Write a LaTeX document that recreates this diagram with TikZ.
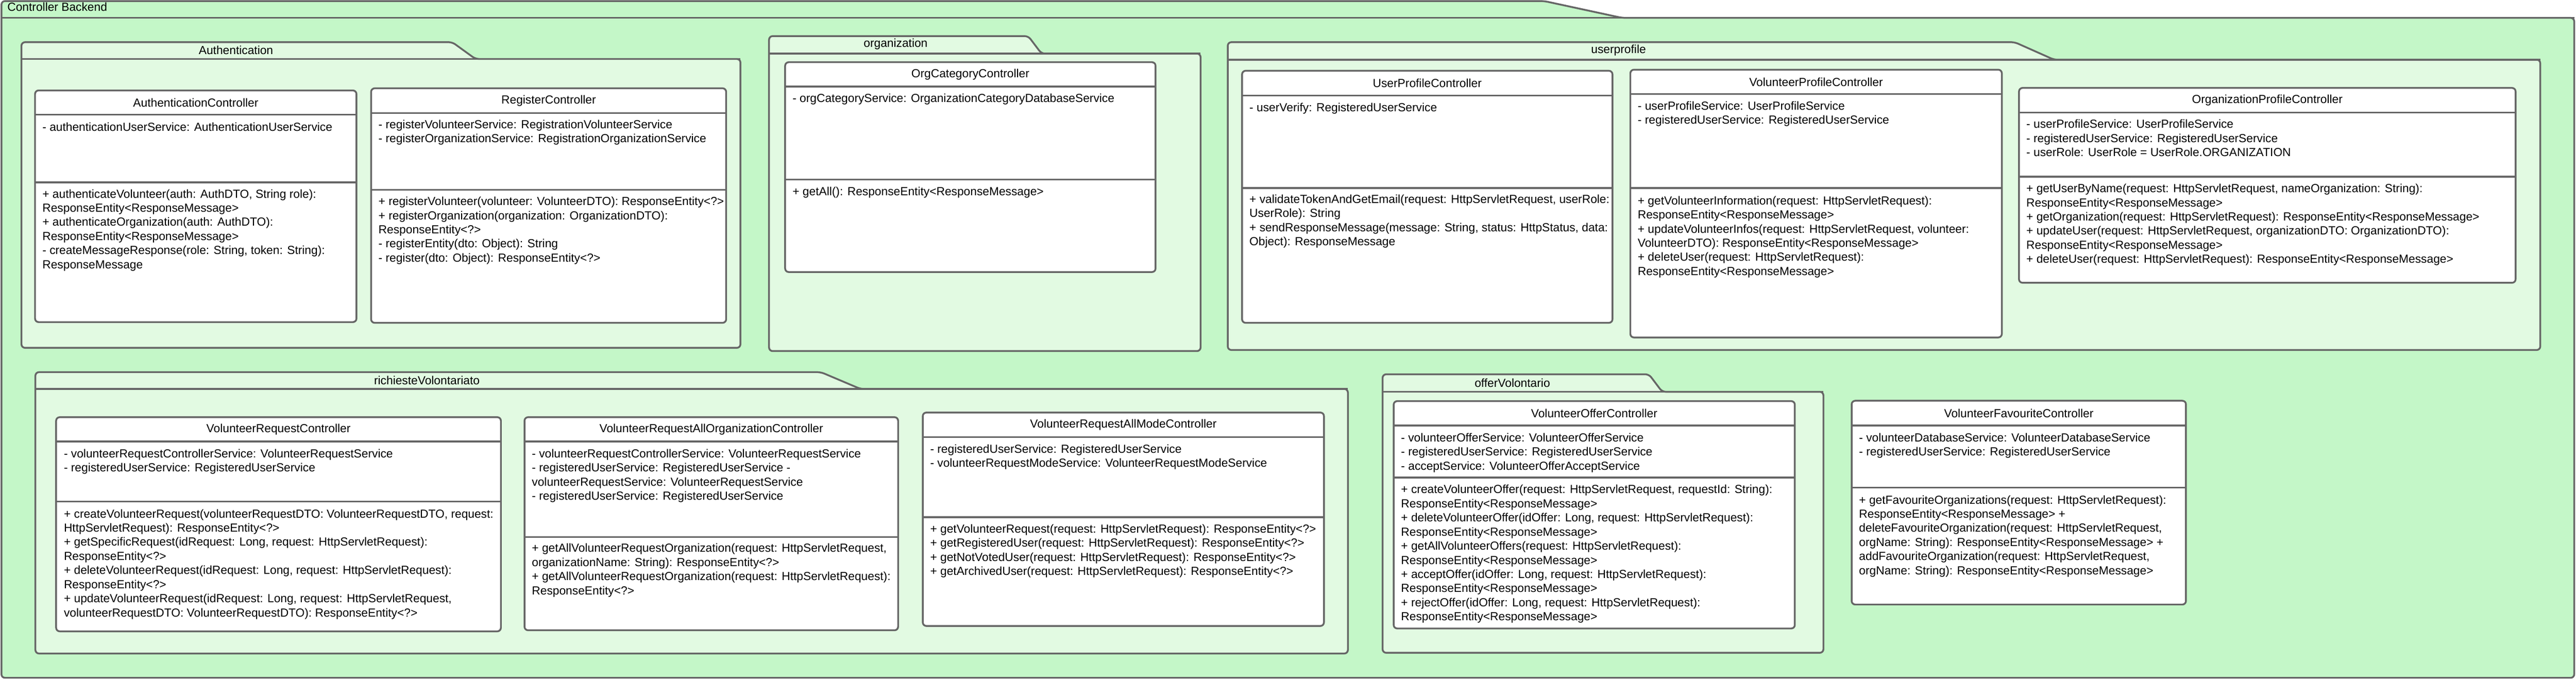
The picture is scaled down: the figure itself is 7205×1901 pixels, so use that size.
\documentclass[tikz,border=0pt]{standalone}
\usepackage{fontspec}
\setmainfont{Liberation Sans}
\usetikzlibrary{fit}
\definecolor{strk}{HTML}{666666}
\definecolor{outerfill}{RGB}{196,247,200}
\definecolor{pkgfill}{RGB}{226,250,226}
\newcommand\umlfont{\fontsize{9.33pt}{11.24pt}\selectfont}
% class frame: id, x0, ytop, x1, y header line, y divider, ybottom, title
\newcommand\umlclass[8]{%
  \node[classbox, fit={(#2,#3)(#4,#7)}] (#1) {};
  \draw[sepline] (#2,#5) -- (#4,#5);
  \draw[sepline] (#2,#6) -- (#4,#6);
  \node[titletxt] (#1-name) at ({(#2+#4)/2},{(#3+#5)/2}) {#8};
}
% package: x0, ytab top, xtab end, xslant end, ytab bottom, x1, ybottom
\newcommand\umlpackage[7]{%
  \filldraw[pkgshape] (#1,#5) -- (#1,#2) -- (#3,#2) -- (#4,#5) -- (#6,#5) -- (#6,#7) -- (#1,#7) -- cycle;
  \draw[sepline] (#1,#5) -- (#6,#5);
}
\begin{document}
\begin{tikzpicture}[
  x=0.01cm, y=-0.01cm,
  outershape/.style={draw=strk, fill=outerfill, line width=0.05cm, rounded corners=0.1cm},
  pkgshape/.style={draw=strk, fill=pkgfill, line width=0.05cm, rounded corners=0.1cm},
  classbox/.style={draw=strk, fill=white, line width=0.05cm, rounded corners=0.1cm, inner sep=0pt},
  sepline/.style={draw=strk, line width=0.05cm},
  titletxt/.style={font=\umlfont, inner sep=0pt},
  txt/.style={anchor=north west, align=left, inner sep=0pt, font=\umlfont},
  pkglabel/.style={font=\umlfont, inner sep=0pt}
]
\useasboundingbox (0,0) rectangle (7205,1901);

% outer frame
\filldraw[outershape] (4,50) -- (4,3) -- (4319,3) -- (4537,50) -- (7200,50) -- (7200,1896) -- (4,1896) -- cycle;
\draw[sepline] (4,50) -- (7200,50);
\node[pkglabel, anchor=west] (backend) at (20,19) {Controller Backend};

% packages
\umlpackage{60}{118}{1265}{1330}{165}{2071}{973}
\node[pkglabel] (authpkg) at (660,141) {Authentication};
\umlpackage{2151}{101}{2876}{2913}{150}{3358}{982}
\node[pkglabel] (orgpkg) at (2505,124) {organization};
\umlpackage{3434}{118}{5635}{5745}{167}{7105}{979}
\node[pkglabel] (userpkg) at (4527,141) {userprofile};
\umlpackage{99}{1041}{2296}{2407}{1088}{3770}{1828}
\node[pkglabel] (reqpkg) at (1194,1064) {richiesteVolontariato};
\umlpackage{3867}{1047}{4612}{4649}{1096}{5100}{1826}
\node[pkglabel] (offpkg) at (4230,1071) {offerVolontario};

% AuthenticationController
\umlclass{authc}{98}{253}{997}{321}{510}{901}{AuthenticationController}
\node[txt] (authc-a) at (118,338) {\strut- authenticationUserService: AuthenticationUserService};
\node[txt] (authc-m) at (118,525) {\strut+ authenticateVolunteer(auth: AuthDTO, String role):\\
ResponseEntity<ResponseMessage>\\
+ authenticateOrganization(auth: AuthDTO):\\
ResponseEntity<ResponseMessage>\\
- createMessageResponse(role: String, token: String):\\
ResponseMessage};

% RegisterController
\umlclass{regc}{1038}{247}{2031}{316}{531}{903}{RegisterController}
\node[txt] (regc-a) at (1058,331) {\strut- registerVolunteerService: RegistrationVolunteerService\\
- registerOrganizationService: RegistrationOrganizationService};
\node[txt] (regc-m) at (1058,546) {\strut+ registerVolunteer(volunteer: VolunteerDTO): ResponseEntity<?>\\
+ registerOrganization(organization: OrganizationDTO):\\
ResponseEntity<?>\\
- registerEntity(dto: Object): String\\
- register(dto: Object): ResponseEntity<?>};

% OrgCategoryController
\umlclass{orgc}{2196}{174}{3232}{242}{502}{761}{OrgCategoryController}
\node[txt] (orgc-a) at (2216,258) {\strut- orgCategoryService: OrganizationCategoryDatabaseService};
\node[txt] (orgc-m) at (2216,518) {\strut+ getAll(): ResponseEntity<ResponseMessage>};

% UserProfileController
\umlclass{upc}{3474}{198}{4510}{267}{526}{903}{UserProfileController}
\node[txt] (upc-a) at (3494,283) {\strut- userVerify: RegisteredUserService};
\node[txt] (upc-m) at (3494,540) {\strut+ validateTokenAndGetEmail(request: HttpServletRequest, userRole:\\
UserRole): String\\
+ sendResponseMessage(message: String, status: HttpStatus, data:\\
Object): ResponseMessage};

% VolunteerProfileController
\umlclass{vpc}{4560}{195}{5599}{263}{526}{944}{VolunteerProfileController}
\node[txt] (vpc-a) at (4580,279) {\strut- userProfileService: UserProfileService\\
- registeredUserService: RegisteredUserService};
\node[txt] (vpc-m) at (4580,544) {\strut+ getVolunteerInformation(request: HttpServletRequest):\\
ResponseEntity<ResponseMessage>\\
+ updateVolunteerInfos(request: HttpServletRequest, volunteer:\\
VolunteerDTO): ResponseEntity<ResponseMessage>\\
+ deleteUser(request: HttpServletRequest):\\
ResponseEntity<ResponseMessage>};

% OrganizationProfileController
\umlclass{opc}{5647}{246}{7036}{315}{494}{791}{OrganizationProfileController}
\node[txt] (opc-a) at (5667,330) {\strut- userProfileService: UserProfileService\\
- registeredUserService: RegisteredUserService\\
- userRole: UserRole = UserRole.ORGANIZATION};
\node[txt] (opc-m) at (5667,510) {\strut+ getUserByName(request: HttpServletRequest, nameOrganization: String):\\
ResponseEntity<ResponseMessage>\\
+ getOrganization(request: HttpServletRequest): ResponseEntity<ResponseMessage>\\
+ updateUser(request: HttpServletRequest, organizationDTO: OrganizationDTO):\\
ResponseEntity<ResponseMessage>\\
+ deleteUser(request: HttpServletRequest): ResponseEntity<ResponseMessage>};

% VolunteerRequestController
\umlclass{vrc}{157}{1167}{1401}{1235}{1403}{1766}{VolunteerRequestController}
\node[txt] (vrc-a) at (178,1252) {\strut- volunteerRequestControllerService: VolunteerRequestService\\
- registeredUserService: RegisteredUserService};
\node[txt] (vrc-m) at (178,1420) {\strut+ createVolunteerRequest(volunteerRequestDTO: VolunteerRequestDTO, request:\\
HttpServletRequest): ResponseEntity<?>\\
+ getSpecificRequest(idRequest: Long, request: HttpServletRequest):\\
ResponseEntity<?>\\
+ deleteVolunteerRequest(idRequest: Long, request: HttpServletRequest):\\
ResponseEntity<?>\\
+ updateVolunteerRequest(idRequest: Long, request: HttpServletRequest,\\
volunteerRequestDTO: VolunteerRequestDTO): ResponseEntity<?>};

% VolunteerRequestAllOrganizationController
\umlclass{vraoc}{1467}{1167}{2512}{1235}{1502}{1763}{VolunteerRequestAllOrganizationController}
\node[txt] (vraoc-a) at (1487,1252) {\strut- volunteerRequestControllerService: VolunteerRequestService\\
- registeredUserService: RegisteredUserService -\\
volunteerRequestService: VolunteerRequestService\\
- registeredUserService: RegisteredUserService};
\node[txt] (vraoc-m) at (1487,1516) {\strut+ getAllVolunteerRequestOrganization(request: HttpServletRequest,\\
organizationName: String): ResponseEntity<?>\\
+ getAllVolunteerRequestOrganization(request: HttpServletRequest):\\
ResponseEntity<?>};

% VolunteerRequestAllModeController
\umlclass{vramc}{2581}{1154}{3703}{1223}{1447}{1751}{VolunteerRequestAllModeController}
\node[txt] (vramc-a) at (2601,1239) {\strut- registeredUserService: RegisteredUserService\\
- volunteerRequestModeService: VolunteerRequestModeService};
\node[txt] (vramc-m) at (2601,1462) {\strut+ getVolunteerRequest(request: HttpServletRequest): ResponseEntity<?>\\
+ getRegisteredUser(request: HttpServletRequest): ResponseEntity<?>\\
+ getNotVotedUser(request: HttpServletRequest): ResponseEntity<?>\\
+ getArchivedUser(request: HttpServletRequest): ResponseEntity<?>};

% VolunteerOfferController
\umlclass{voc}{3898}{1122}{5020}{1190}{1336}{1758}{VolunteerOfferController}
\node[txt] (voc-a) at (3918,1207) {\strut- volunteerOfferService: VolunteerOfferService\\
- registeredUserService: RegisteredUserService\\
- acceptService: VolunteerOfferAcceptService};
\node[txt] (voc-m) at (3918,1352) {\strut+ createVolunteerOffer(request: HttpServletRequest, requestId: String):\\
ResponseEntity<ResponseMessage>\\
+ deleteVolunteerOffer(idOffer: Long, request: HttpServletRequest):\\
ResponseEntity<ResponseMessage>\\
+ getAllVolunteerOffers(request: HttpServletRequest):\\
ResponseEntity<ResponseMessage>\\
+ acceptOffer(idOffer: Long, request: HttpServletRequest):\\
ResponseEntity<ResponseMessage>\\
+ rejectOffer(idOffer: Long, request: HttpServletRequest):\\
ResponseEntity<ResponseMessage>};

% VolunteerFavouriteController
\umlclass{vfc}{5179}{1121}{6114}{1190}{1364}{1691}{VolunteerFavouriteController}
\node[txt] (vfc-a) at (5199,1207) {\strut- volunteerDatabaseService: VolunteerDatabaseService\\
- registeredUserService: RegisteredUserService};
\node[txt] (vfc-m) at (5199,1381) {\strut+ getFavouriteOrganizations(request: HttpServletRequest):\\
ResponseEntity<ResponseMessage> +\\
deleteFavouriteOrganization(request: HttpServletRequest,\\
orgName: String): ResponseEntity<ResponseMessage> +\\
addFavouriteOrganization(request: HttpServletRequest,\\
orgName: String): ResponseEntity<ResponseMessage>};
\end{tikzpicture}
\end{document}
